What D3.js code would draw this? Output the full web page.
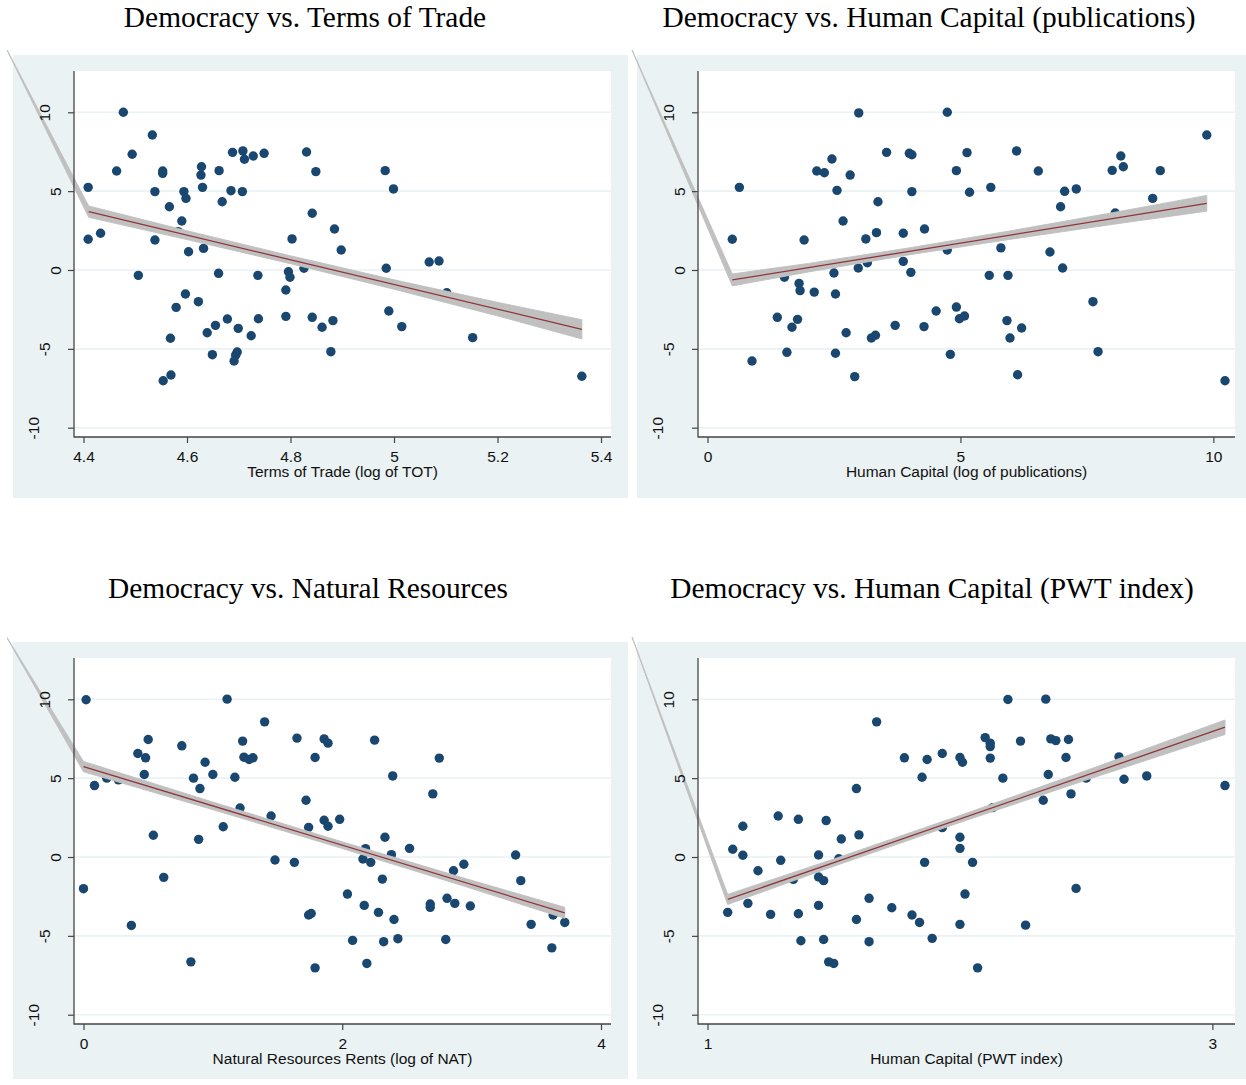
<!DOCTYPE html>
<html>
<head>
<meta charset="utf-8">
<script src="https://cdn.jsdelivr.net/npm/d3@7"></script>
<style>
  body { margin: 0; background: #fff; }
  svg { display: block; }
</style>
</head>
<body>
<svg id="chart" width="1246" height="1085"></svg>
<script>
// ---- data ----
const yTicks = [-10, -5, 0, 5, 10];

// Terms of Trade
const totTicks = [4.4, 4.6, 4.8, 5, 5.2, 5.4];
const totX = [4.409, 4.409, 4.433, 4.464, 4.477, 4.494, 4.506, 4.533, 4.538, 4.538, 4.553, 4.553, 4.566, 4.590, 4.594,
  4.598, 4.583, 4.603, 4.628, 4.627, 4.630, 4.632, 4.661, 4.662, 4.668, 4.685, 4.688, 4.708, 4.711, 4.707,
  4.728, 4.749, 4.737, 4.796, 4.799, 4.803, 4.826, 4.842, 4.831, 4.849, 4.791, 4.983, 4.999, 4.885, 4.898,
  4.985, 5.068, 5.087, 5.102, 4.597, 4.622, 4.579, 4.568, 4.554, 4.569, 4.639, 4.655, 4.649, 4.678, 4.699,
  4.697, 4.694, 4.691, 4.724, 4.738, 4.791, 4.842, 4.861, 4.882, 4.878, 4.990, 5.015, 5.152, 5.363];
const totY = [5.24, 1.95, 2.33, 6.28, 10.0, 7.34, -0.34, 8.56, 4.97, 1.90, 6.28, 6.13, 4.01, 3.11, 4.97,
  4.54, 2.43, 1.16, 6.55, 6.02, 5.24, 1.37, -0.21, 6.30, 4.33, 5.03, 7.46, 7.55, 7.02, 4.97,
  7.23, 7.40, -0.34, -0.11, -0.46, 1.97, 0.11, 3.60, 7.48, 6.24, -1.27, 6.30, 5.14, 2.60, 1.27,
  0.11, 0.51, 0.57, -1.44, -1.52, -2.01, -2.37, -4.33, -7.02, -6.66, -3.98, -3.51, -5.37, -3.11, -3.70,
  -5.20, -5.40, -5.77, -4.17, -3.09, -2.94, -3.00, -3.63, -3.21, -5.18, -2.60, -3.59, -4.29, -6.74];
const totFitX = [4.41, 5.363];
const totFitY = [3.70, -3.76];
const totBandX = [4.41, 4.6, 4.8, 5.0, 5.2, 5.363];
const totBandLo = [3.34, 1.93, 0.40, -1.22, -2.91, -4.37];
const totBandHi = [4.06, 2.49, 0.90, -0.62, -2.05, -3.15];
const totTip = [4.2435, 14.52];

// Human capital (publications)
const pubTicks = [0, 5, 10];
const pubX = [0.49, 0.63, 1.91, 2.16, 2.31, 2.46, 2.56, 2.68, 2.82, 2.99, 3.13, 3.34, 3.37, 3.54, 3.87,
  3.99, 4.04, 4.04, 4.29, 3.87, 4.02, 2.98, 3.16, 2.50, 1.52, 1.81, 1.83, 2.11, 1.38, 1.67,
  1.78, 1.57, 0.88, 2.53, 2.74, 2.53, 2.91, 3.24, 3.32, 3.71, 4.28, 4.52, 4.74, 5.13, 4.92,
  5.18, 5.60, 6.11, 6.54, 7.06, 7.29, 6.98, 8.00, 8.17, 8.22, 8.06, 8.80, 8.95, 9.87, 4.74,
  5.80, 6.77, 5.57, 5.94, 7.02, 4.92, 4.98, 5.08, 4.80, 5.92, 6.21, 5.98, 6.13, 7.62, 7.72, 10.23];
const pubY = [1.95, 5.24, 1.90, 6.28, 6.17, 7.04, 5.05, 3.11, 6.02, 9.96, 1.97, 2.37, 4.33, 7.46, 2.33,
  7.40, 7.31, 4.97, 2.60, 0.55, -0.15, 0.13, 0.46, -0.19, -0.46, -0.85, -1.31, -1.40, -3.00, -3.63,
  -3.13, -5.22, -5.77, -1.52, -3.98, -5.28, -6.76, -4.31, -4.14, -3.51, -3.59, -2.60, 10.0, 7.44, 6.30,
  4.93, 5.24, 7.55, 6.28, 4.99, 5.14, 4.01, 6.32, 7.23, 6.55, 3.61, 4.54, 6.30, 8.56, 1.27,
  1.40, 1.14, -0.34, -0.34, 0.13, -2.35, -3.09, -2.92, -5.35, -3.21, -3.68, -4.31, -6.64, -2.01, -5.18, -7.02];
const pubFitX = [0.49, 9.87];
const pubFitY = [-0.63, 4.23];
const pubBandX = [0.49, 2, 4, 6, 8, 9.87];
const pubBandLo = [-1.01, -0.12, 0.97, 1.95, 2.89, 3.73];
const pubBandHi = [-0.25, 0.42, 1.41, 2.49, 3.63, 4.73];
const pubTip = [-1.571, 14.53];

// Natural resources
const natTicks = [0, 2, 4];
const natX = [0.02, 0.00, 0.085, 0.18, 0.27, 0.37, 0.42, 0.48, 0.50, 0.47, 0.54, 0.62, 0.76, 0.85, 0.90,
  0.94, 0.89, 0.83, 1.00, 1.08, 1.11, 1.17, 1.21, 1.23, 1.24, 1.28, 1.31, 1.40, 1.45, 1.48,
  1.63, 1.65, 1.72, 1.74, 1.74, 1.76, 1.79, 1.79, 1.86, 1.89, 1.86, 1.89, 2.25, 2.75, 2.39,
  2.70, 1.98, 2.33, 2.18, 2.16, 2.22, 2.38, 2.52, 2.31, 2.86, 2.94, 3.34, 3.38, 2.04, 2.17,
  2.28, 2.40, 2.68, 2.68, 2.81, 2.87, 2.99, 2.08, 2.32, 2.43, 2.80, 2.19, 3.46, 3.63, 3.72, 3.62];
const natY = [9.97, -2.01, 4.53, 5.0, 4.89, -4.34, 6.56, 6.29, 7.45, 5.23, 1.38, -1.29, 7.05, 5.0, 4.34,
  6.01, 1.12, -6.65, 5.23, 1.92, 10.01, 5.06, 3.11, 7.35, 6.33, 6.18, 6.29, 8.57, 2.60, -0.19,
  -0.34, 7.54, 3.60, 1.88, -3.68, -3.58, -7.03, 6.31, 7.49, 7.22, 2.33, 1.95, 7.41, 6.27, 5.14,
  4.0, 2.39, 1.25, 0.53, -0.13, -0.34, 0.15, 0.55, -1.40, -0.87, -0.46, 0.13, -1.50, -2.35, -3.07,
  -3.51, -3.96, -2.98, -3.19, -2.62, -2.94, -3.11, -5.29, -5.37, -5.18, -5.23, -6.75, -4.27, -3.68, -4.15, -5.76];
const natFitX = [0, 3.72];
const natFitY = [5.73, -3.54];
const natBandX = [0, 1, 2, 3, 3.72];
const natBandLo = [5.40, 3.00, 0.54, -2.00, -3.89];
const natBandHi = [6.06, 3.48, 0.96, -1.48, -3.19];
const natTip = [-0.628, 14.41];

// Human capital (PWT index)
const pwtTicks = [1, 3];
const pwtX = [1.08, 1.10, 1.14, 1.14, 1.16, 1.20, 1.25, 1.28, 1.29, 1.34, 1.36, 1.36, 1.37, 1.44, 1.44,
  1.46, 1.44, 1.46, 1.47, 1.48, 1.50, 1.52, 1.53, 1.59, 1.60, 1.59, 1.64, 1.64, 1.67, 1.73,
  1.78, 1.81, 1.84, 1.85, 1.86, 1.87, 1.89, 1.93, 1.93, 2.00, 2.01, 2.00, 2.00, 2.05, 2.02,
  2.00, 2.07, 2.10, 2.12, 2.12, 2.12, 2.17, 2.13, 2.19, 2.24, 2.26, 2.33, 2.34, 2.35, 2.36,
  2.38, 2.43, 2.42, 2.44, 2.46, 2.50, 2.63, 2.65, 2.74, 3.05];
const pwtY = [-3.51, 0.49, 0.11, 1.95, -2.94, -0.87, -3.64, 2.60, -0.21, -1.42, 2.39, -3.60, -5.31, 0.13, -1.27,
  -1.50, -3.07, -5.23, 2.31, -6.65, -6.75, -0.11, 1.14, 4.34, 1.40, -3.96, -2.62, -5.37, 8.57, -3.22,
  6.29, -3.68, -4.15, 5.06, -0.34, 6.18, -5.16, 6.56, 1.86, 6.31, 6.01, 1.25, 0.55, -0.34, -2.35,
  -4.27, -7.03, 7.57, 7.22, 7.0, 6.27, 5.0, 3.13, 9.99, 7.35, -4.32, 3.60, 10.01, 5.23, 7.49,
  7.38, 7.45, 6.31, 4.0, -1.99, 5.0, 6.35, 4.93, 5.14, 4.53];
const pwtFitX = [1.08, 3.05];
const pwtFitY = [-2.69, 8.23];
const pwtBandX = [1.08, 1.5, 2.0, 2.5, 3.05];
const pwtBandLo = [-3.01, -0.59, 2.19, 4.88, 7.77];
const pwtBandHi = [-2.37, -0.13, 2.63, 5.48, 8.69];
const pwtTip = [0.688, 14.53];

const titles = ["Democracy vs. Terms of Trade", "Democracy vs. Human Capital (publications)",
  "Democracy vs. Natural Resources", "Democracy vs. Human Capital (PWT index)"];
const xTitles = ["Terms of Trade (log of TOT)", "Human Capital (log of publications)",
  "Natural Resources Rents (log of NAT)", "Human Capital (PWT index)"];

const panels = [
  { col: 0, row: 0, title: titles[0], xTitle: xTitles[0], ticks: totTicks, xs: totX, ys: totY,
    fitX: totFitX, fitY: totFitY, bandX: totBandX, lo: totBandLo, hi: totBandHi, tip: totTip },
  { col: 1, row: 0, title: titles[1], xTitle: xTitles[1], ticks: pubTicks, xs: pubX, ys: pubY,
    fitX: pubFitX, fitY: pubFitY, bandX: pubBandX, lo: pubBandLo, hi: pubBandHi, tip: pubTip },
  { col: 0, row: 1, title: titles[2], xTitle: xTitles[2], ticks: natTicks, xs: natX, ys: natY,
    fitX: natFitX, fitY: natFitY, bandX: natBandX, lo: natBandLo, hi: natBandHi, tip: natTip },
  { col: 1, row: 1, title: titles[3], xTitle: xTitles[3], ticks: pwtTicks, xs: pwtX, ys: pwtY,
    fitX: pwtFitX, fitY: pwtFitY, bandX: pwtBandX, lo: pwtBandLo, hi: pwtBandHi, tip: pwtTip }
];

// ---- styling ----
const bgColor = "#eaf2f3";
const dotColor = "#1a476f";
const fitColor = "#90353b";
const bandColor = "#c0c0c0";
const axisColor = "#444";
const sans = "'Liberation Sans', Arial, sans-serif";
const serif = "'Liberation Serif', 'Times New Roman', serif";

const svg = d3.select("#chart");
const defs = svg.append("defs");

panels.forEach((p, i) => {
  const ox = p.col * 624, oy = p.row * 587;
  const left = 74 + ox, right = 611 + ox, top = 71 + oy, bottom = 437 + oy;

  // panel title (serif caption above each exported graph)
  svg.append("text")
    .attr("x", (p.row === 0 ? 305 : 308) + ox).attr("y", p.row === 0 ? 27 : 598)
    .attr("text-anchor", "middle")
    .attr("font-family", serif).attr("font-size", 29.4)
    .text(p.title);

  // graph region
  svg.append("rect")
    .attr("x", 13 + ox).attr("y", 55 + oy)
    .attr("width", 615).attr("height", p.row === 0 ? 443 : 437)
    .attr("fill", bgColor);
  svg.append("rect")
    .attr("x", left).attr("y", top)
    .attr("width", right - left).attr("height", bottom - top)
    .attr("fill", "#fff");

  // scales
  const lo = Math.min(p.ticks[0], d3.min(p.xs));
  const hi = Math.max(p.ticks[p.ticks.length - 1], d3.max(p.xs));
  const x = d3.scaleLinear().domain([lo, hi]).range([left + 9.5, right - 10]);
  const y = d3.scaleLinear().domain([-10, 10]).range([bottom - 9.3, top + 41.3]);

  // gridlines
  svg.append("g").selectAll("line")
    .data(yTicks).join("line")
    .attr("x1", left).attr("x2", right)
    .attr("y1", d => y(d)).attr("y2", d => y(d))
    .attr("stroke", bgColor).attr("stroke-width", 1.6);

  // scatter
  svg.append("g").selectAll("circle")
    .data(p.xs.map((v, k) => [v, p.ys[k]])).join("circle")
    .attr("cx", d => x(d[0])).attr("cy", d => y(d[1]))
    .attr("r", 4.7).attr("fill", dotColor);

  // confidence band (with its stray vertex), clipped to the exported image
  const clipId = "img" + i;
  defs.append("clipPath").attr("id", clipId)
    .append("rect").attr("x", 7 + ox).attr("y", 50 + oy).attr("width", 2000).attr("height", 2000);
  const pts = p.bandX.map((v, k) => [v, p.lo[k]])
    .concat(p.bandX.map((v, k) => [v, p.hi[k]]).reverse())
    .concat([p.tip]);
  svg.append("path")
    .attr("clip-path", `url(#${clipId})`)
    .attr("d", d3.line().x(d => x(d[0])).y(d => y(d[1]))(pts) + "Z")
    .attr("fill", bandColor).attr("stroke", bandColor)
    .attr("stroke-width", 0.9).attr("stroke-linejoin", "round");

  // fitted line
  svg.append("path")
    .attr("d", d3.line().x(d => x(d[0])).y(d => y(d[1]))(p.fitX.map((v, k) => [v, p.fitY[k]])))
    .attr("fill", "none").attr("stroke", fitColor).attr("stroke-width", 1.3);

  // axes (labels sit on top of the stray band edge)
  const xAxis = svg.append("g")
    .attr("transform", `translate(0,${bottom})`)
    .call(d3.axisBottom(x).tickValues(p.ticks).tickSize(6).tickSizeOuter(0).tickFormat(d => String(d)));
  const yAxis = svg.append("g")
    .attr("transform", `translate(${left},0)`)
    .call(d3.axisLeft(y).tickValues(yTicks).tickSize(6).tickSizeOuter(0).tickFormat(d => String(d)));
  [xAxis, yAxis].forEach(g => {
    g.select(".domain").remove();
    g.selectAll("line").attr("stroke", axisColor).attr("stroke-width", 1.2);
    g.selectAll("text").attr("fill", "#111").attr("font-family", sans).attr("font-size", 15.5);
  });
  xAxis.selectAll("text").attr("y", 0).attr("dy", 0).attr("transform", "translate(0,24.5)");
  yAxis.selectAll("text")
    .attr("x", 0).attr("dy", 0)
    .attr("text-anchor", "middle")
    .attr("transform", d => `translate(${-(19 + 10.7 * (String(d).length - 1)) + 5.5},0) rotate(-90)`);

  svg.append("line")
    .attr("x1", left).attr("x2", left).attr("y1", top).attr("y2", bottom + 0.6)
    .attr("stroke", axisColor).attr("stroke-width", 1.3);
  svg.append("line")
    .attr("x1", left).attr("x2", right).attr("y1", bottom).attr("y2", bottom)
    .attr("stroke", axisColor).attr("stroke-width", 1.3);

  // x-axis title
  svg.append("text")
    .attr("x", (left + right) / 2).attr("y", bottom + 40)
    .attr("text-anchor", "middle")
    .attr("font-family", sans).attr("font-size", 15.5).attr("fill", "#111")
    .text(p.xTitle);
});
</script>
</body>
</html>
